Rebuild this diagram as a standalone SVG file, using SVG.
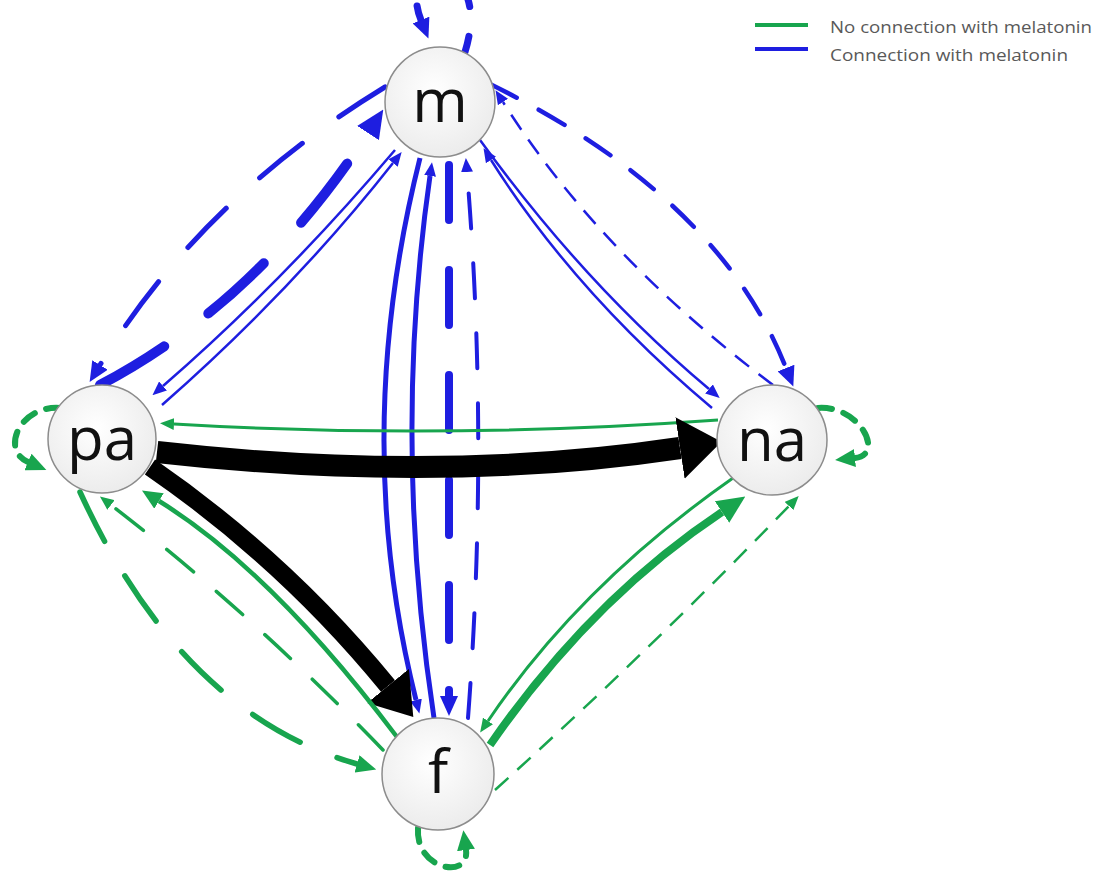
<svg xmlns="http://www.w3.org/2000/svg" width="1099" height="874" viewBox="0 0 1099 874">
<style>
.b{fill:none;stroke:#1e1ee0}
.g{fill:none;stroke:#18a54e}
.k{fill:none;stroke:#000}
.rc{stroke-linecap:round}
.node circle{fill:url(#ng);stroke:#8c8c8c;stroke-width:1.5}
.node text{font-family:"Open Sans","Liberation Sans",sans-serif;font-size:60px;fill:#111;text-anchor:middle}
.leg{font-family:"Open Sans","Liberation Sans",sans-serif;font-size:17px;fill:#595959}
</style>
<defs>
<radialGradient id="ng" cx="0.45" cy="0.4" r="0.6">
<stop offset="0" stop-color="#ffffff"/>
<stop offset="1" stop-color="#ececec"/>
</radialGradient>
<marker id="bS" markerUnits="userSpaceOnUse" markerWidth="14" markerHeight="12" viewBox="0 -6 14 12" refX="0" refY="0" orient="auto"><path d="M0,-6L14,0L0,6z" fill="#1e1ee0"/></marker>
<marker id="bD" markerUnits="userSpaceOnUse" markerWidth="20" markerHeight="18" viewBox="0 -9 20 18" refX="0" refY="0" orient="auto"><path d="M0,-9L20,0L0,9z" fill="#1e1ee0"/></marker>
<marker id="bL" markerUnits="userSpaceOnUse" markerWidth="28" markerHeight="26" viewBox="0 -13 28 26" refX="0" refY="0" orient="auto"><path d="M0,-13L28,0L0,13z" fill="#1e1ee0"/></marker>
<marker id="gS" markerUnits="userSpaceOnUse" markerWidth="14" markerHeight="12" viewBox="0 -6 14 12" refX="0" refY="0" orient="auto"><path d="M0,-6L14,0L0,6z" fill="#18a54e"/></marker>
<marker id="gM" markerUnits="userSpaceOnUse" markerWidth="20" markerHeight="18" viewBox="0 -9 20 18" refX="0" refY="0" orient="auto"><path d="M0,-9L20,0L0,9z" fill="#18a54e"/></marker>
<marker id="gL" markerUnits="userSpaceOnUse" markerWidth="28" markerHeight="26" viewBox="0 -13 28 26" refX="0" refY="0" orient="auto"><path d="M0,-13L28,0L0,13z" fill="#18a54e"/></marker>
<marker id="kL" markerUnits="userSpaceOnUse" markerWidth="42" markerHeight="62" viewBox="0 -31 42 62" refX="0" refY="0" orient="auto"><path d="M0,-31L42,0L0,31z" fill="#000"/></marker>
<marker id="kJ" markerUnits="userSpaceOnUse" markerWidth="40" markerHeight="54" viewBox="0 -27 40 54" refX="0" refY="0" orient="auto"><path d="M0,-27L40,0L0,27z" fill="#000"/></marker>
</defs>
<rect width="1099" height="874" fill="#fff"/>

<g id="connectors">
<!-- pa - m -->
<path class="b rc" d="M385,87 Q200,200 100,365" stroke-width="5" stroke-dasharray="55 45" marker-end="url(#bD)"/>
<path class="b rc" d="M100,385 Q258,302 368,133" stroke-width="10" stroke-dasharray="75 55" marker-end="url(#bL)"/>
<path class="b" d="M395,150 Q283,282 163,386" stroke-width="2.5" marker-end="url(#bS)"/>
<path class="b" d="M162,405 Q293,290 393,163" stroke-width="2.5" marker-end="url(#bS)"/>
<!-- m - na -->
<path class="b" d="M480,140 Q585,285 709,389" stroke-width="2.5" marker-end="url(#bS)"/>
<path class="b" d="M712,408 Q575,293 491,160" stroke-width="2.5" marker-end="url(#bS)"/>
<path class="b" d="M773,385 Q600,255 503,102" stroke-width="2.5" stroke-dasharray="18 12" marker-end="url(#bS)"/>
<path class="b rc" d="M490,84 Q719,197 786,368" stroke-width="4.5" stroke-dasharray="30 25" marker-end="url(#bD)"/>
<!-- m - f -->
<path class="b" d="M420,158 Q350,436 416,700" stroke-width="5" marker-end="url(#bS)"/>
<path class="b" d="M434,718 Q392,440 430,176" stroke-width="5" marker-end="url(#bS)"/>
<path class="b rc" d="M449,165 L449,696" stroke-width="8" stroke-dasharray="55 50" marker-end="url(#bD)"/>
<path class="b rc" d="M468,718 Q489,440 467,172" stroke-width="4" stroke-dasharray="35 35" marker-end="url(#bS)"/>
<!-- pa - na -->
<path class="g" d="M718,420 Q440,440 174,424" stroke-width="3" marker-end="url(#gS)"/>
<path class="k" d="M157,452 Q440,484 680,448" stroke-width="22" marker-end="url(#kL)"/>
<!-- pa - f -->
<path class="k" d="M150,467 Q285,560 388,686" stroke-width="18" marker-end="url(#kJ)"/>
<path class="g" d="M397,737 Q272,571 159,501" stroke-width="4.5" marker-end="url(#gM)"/>
<path class="g rc" d="M383,750 Q251,613 111,505" stroke-width="3.5" stroke-dasharray="35 30" marker-end="url(#gS)"/>
<path class="g rc" d="M80,492 Q181,713 357,764" stroke-width="5.5" stroke-dasharray="55 40" marker-end="url(#gM)"/>
<!-- na - f -->
<path class="g" d="M733,478 Q580,585 488,721" stroke-width="3" marker-end="url(#gS)"/>
<path class="g" d="M490,745 Q590,600 722,512" stroke-width="8" marker-end="url(#gL)"/>
<path class="g" d="M495,790 Q650,650 789,506" stroke-width="2.5" stroke-dasharray="18 12" marker-end="url(#gS)"/>
<!-- self loops -->
<path class="b rc" d="M465,52 C495,-45 395,-45 421,20" stroke-width="7" stroke-dasharray="16 30" marker-end="url(#bD)"/>
<path class="g rc" d="M60,408 C20,405 0,450 28,462" stroke-width="6" stroke-dasharray="14 12" marker-end="url(#gM)"/>
<path class="g rc" d="M818,408 C860,405 885,455 855,458" stroke-width="6" stroke-dasharray="14 12" marker-end="url(#gM)"/>
<path class="g rc" d="M418,828 C415,870 470,880 466,850" stroke-width="6" stroke-dasharray="14 12" marker-end="url(#gM)"/>
</g>

<g id="node-m" class="node"><circle cx="440" cy="102" r="55"/><text x="440" y="122">m</text></g>
<g id="node-pa" class="node"><circle cx="102" cy="439" r="54"/><text x="102" y="460">pa</text></g>
<g id="node-na" class="node"><circle cx="772" cy="440" r="55"/><text x="772" y="461">na</text></g>
<g id="node-f" class="node"><circle cx="438" cy="774" r="56"/><text x="438" y="793">f</text></g>

<g id="legend">
<line x1="755" y1="25" x2="808" y2="25" stroke="#18a54e" stroke-width="4"/>
<line x1="755" y1="49" x2="808" y2="49" stroke="#1e1ee0" stroke-width="4"/>
<text class="leg" x="830" y="33" textLength="262" lengthAdjust="spacingAndGlyphs">No connection with melatonin</text>
<text class="leg" x="830" y="61" textLength="238" lengthAdjust="spacingAndGlyphs">Connection with melatonin</text>
</g>
</svg>
